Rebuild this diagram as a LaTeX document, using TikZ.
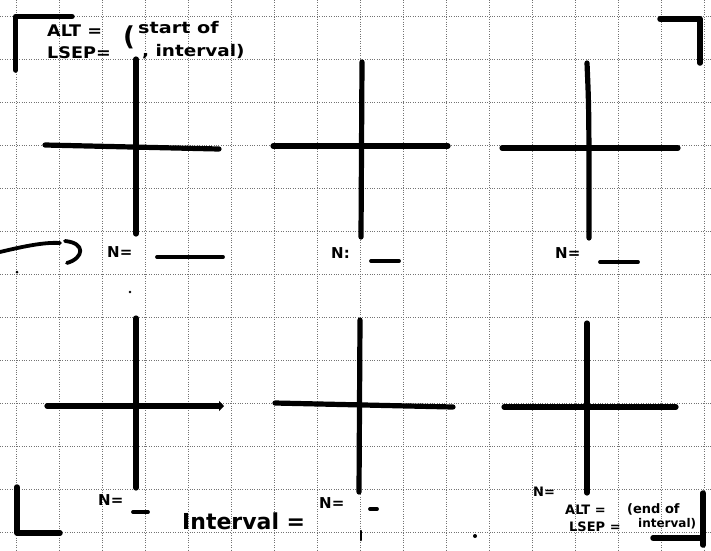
\documentclass[tikz,border=0pt]{standalone}
\usepackage{fontspec}
\setmainfont{DejaVu Sans}
\usetikzlibrary{arrows.meta}
\begin{document}
\begin{tikzpicture}[x=1pt,y=-1pt,
  gridline/.style={black!55,line width=0.45pt,dash pattern=on 0.8pt off 1.6pt},
  stroke/.style={line width=5.2pt,line cap=round,black},
  bracket/.style={line width=5.5pt,line cap=round,line join=round,black},
  blank/.style={line width=3.8pt,line cap=round,black},
  hand/.style={font=\bfseries\fontsize{15}{16}\selectfont,inner sep=0pt,anchor=west},
  handtop/.style={font=\bfseries\fontsize{16}{17}\selectfont,inner sep=0pt,anchor=west},
  handsmall/.style={font=\bfseries\fontsize{13}{14}\selectfont,inner sep=0pt,anchor=west},
  handbig/.style={font=\bfseries\fontsize{22}{24}\selectfont,inner sep=0pt,anchor=west}]
\useasboundingbox (0,0) rectangle (711,550);
\fill[white] (0,0) rectangle (711,550);
% grid paper
\foreach \i in {0,...,16} \draw[gridline] (16.5+43*\i,0) -- (16.5+43*\i,550);
\foreach \j in {0,...,12} \draw[gridline] (0,16.5+43*\j) -- (711,16.5+43*\j);
% corner brackets
\draw[bracket] (72,16.5) -- (15.7,16.5) -- (15.7,70);
\draw[bracket] (660,19) -- (700,19) -- (700,63);
\draw[bracket] (17,487) -- (17,533) -- (60,533);
\draw[bracket] (653,538) -- (703,538);
\draw[bracket] (703,493) -- (703,545);
% crosses (top row)
\draw[stroke] (136,59) -- (136,234);
\draw[stroke] (45,145) -- (219,149);
\draw[stroke] (362,62) -- (361,237);
\draw[stroke] (273,146) -- (448,146);
\draw[stroke] (587,63) .. controls (589,110) .. (589,238);
\draw[stroke] (502,148) -- (678,148);
% crosses (bottom row)
\draw[stroke] (136,318) -- (136,488);
\draw[stroke,-{Triangle[length=5pt,width=10pt]}] (47,406) -- (224,406);
\draw[stroke] (360,320) -- (359,492);
\draw[stroke] (275,403) -- (453,407);
\draw[stroke] (587,323) -- (587,493);
\draw[stroke] (504,407) -- (676,407);
% top-left header
\node[handtop,xscale=1.1] (alt1) at (47,31) {ALT =};
\node[handtop,xscale=1.1] (lsep1) at (47,53) {LSEP=};
\node[font=\bfseries\fontsize{26}{26}\selectfont,inner sep=0pt] (par1) at (129,37) {(};
\node[handtop,xscale=1.2] (start) at (138,28) {start of};
\node[handtop,xscale=1.15] (intv1) at (142,52) {, interval)};
% N labels
\node[hand] (n1) at (107,252) {N=};
\draw[blank] (157,257) -- (223,257);
\node[hand] (n2) at (331,253) {N:};
\draw[blank] (371,261) -- (399,261);
\node[hand] (n3) at (555,253) {N=};
\draw[blank] (600,262) -- (638,262);
\node[hand] (n4) at (98,500) {N=};
\draw[blank] (133,512) -- (148,512);
\node[hand] (n5) at (319,503) {N=};
\draw[blank] (370,509) -- (377,509);
\node[handsmall] (n6) at (533,492) {N=};
% left arrow
\coordinate (arrowstart) at (0,252);
\draw[blank] (arrowstart) .. controls (25,246) and (45,242) .. (60,243);
\draw[blank] (65,241) .. controls (86,243) and (84,258) .. (67,263);
% interval label
\node[handbig] (interval) at (182,521) {Interval =};
% bottom-right footer
\node[handsmall] (alt2) at (565,510) {ALT =};
\node[handsmall] (lsep2) at (569,527) {LSEP =};
\node[handsmall] (endof) at (627,509) {(end of};
\node[font=\bfseries\fontsize{12}{13}\selectfont,inner sep=0pt,anchor=west] (intv2) at (638,524) {interval)};
% stray marks
\fill (17,272) circle (1.5pt);
\fill (130,292) circle (1.3pt);
\fill (475,536) circle (2pt);
\draw[line width=2.5pt,line cap=round] (361,531) -- (361,540);
\end{tikzpicture}
\end{document}
